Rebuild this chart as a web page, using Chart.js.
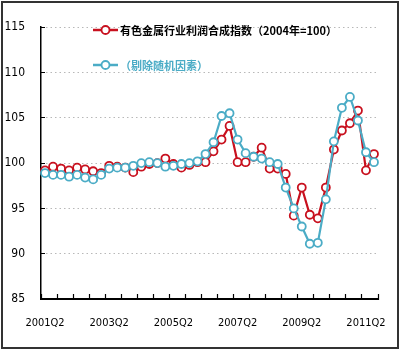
<!DOCTYPE html>
<html>
<head>
<meta charset="utf-8">
<script src="https://cdn.jsdelivr.net/npm/chart.js@4/dist/chart.umd.min.js"></script>
<style>
  html, body { margin: 0; padding: 0; background: #fff; }
  #wrap { position: relative; width: 400px; height: 351px; overflow: hidden; }
  #c { position: absolute; left: 0; top: 0; }
  #frame { position: absolute; left: 1px; top: 1px; width: 398px; height: 348px; box-sizing: border-box; border: 2px solid #333; pointer-events: none; }
  .lg { position: absolute; left: 92px; height: 16px; display: flex; align-items: center; white-space: nowrap;
        font-family: "Noto Sans CJK SC", sans-serif; font-size: 11px; font-weight: bold; }
  .lg svg { margin-right: 1px; }
</style>
</head>
<body>
<div id="wrap">
  <canvas id="c" width="400" height="351"></canvas>
  <div class="lg" id="lg1" style="top:22px;color:#000;">
    <svg width="27" height="12"><line x1="1" y1="6" x2="26" y2="6" stroke="#c8101e" stroke-width="2.5"/><circle cx="13.5" cy="6" r="4" fill="#fff" stroke="#c8101e" stroke-width="1.8"/></svg>
    <span>有色金属行业利润合成指数（2004年=100）</span>
  </div>
  <div class="lg" id="lg2" style="top:57px;color:#4bacc6;">
    <svg width="27" height="12"><line x1="1" y1="6" x2="26" y2="6" stroke="#4bacc6" stroke-width="2.5"/><circle cx="13.5" cy="6" r="4" fill="#fff" stroke="#4bacc6" stroke-width="1.8"/></svg>
    <span>（剔除随机因素）</span>
  </div>
  <div id="frame"></div>
</div>
<script>
const categories = [
  '2001Q2','2001Q3','2001Q4',
  '2002Q1','2002Q2','2002Q3','2002Q4',
  '2003Q1','2003Q2','2003Q3','2003Q4',
  '2004Q1','2004Q2','2004Q3','2004Q4',
  '2005Q1','2005Q2','2005Q3','2005Q4',
  '2006Q1','2006Q2','2006Q3','2006Q4',
  '2007Q1','2007Q2','2007Q3','2007Q4',
  '2008Q1','2008Q2','2008Q3','2008Q4',
  '2009Q1','2009Q2','2009Q3','2009Q4',
  '2010Q1','2010Q2','2010Q3','2010Q4',
  '2011Q1','2011Q2','2011Q3'
];
const shownLabels = ['2001Q2','2003Q2','2005Q2','2007Q2','2009Q2','2011Q2'];
const yTicks = [85, 90, 95, 100, 105, 110, 115];

const profitIndex = [
  99.2, 99.6, 99.4,
  99.2, 99.5, 99.3, 99.1,
  98.9, 99.7, 99.6, 99.5,
  99.0, 99.6, 99.9, 100.0,
  100.5, 99.9, 99.5, 99.8,
  100.1, 100.1, 101.3, 102.6,
  104.1, 100.1, 100.1, 100.7,
  101.7, 99.4, 99.4, 98.8,
  94.2, 97.3, 94.3, 93.9,
  97.3, 101.5, 103.6, 104.4,
  105.8, 99.2, 101.0
];
const adjustedIndex = [
  98.9, 98.7, 98.7,
  98.5, 98.7, 98.4, 98.2,
  98.7, 99.4, 99.5, 99.5,
  99.7, 100.0, 100.1, 100.0,
  99.6, 99.7, 99.9, 100.0,
  100.2, 101.0, 102.3, 105.2,
  105.5, 102.6, 101.1, 100.7,
  100.5, 100.1, 99.9, 97.3,
  95.0, 93.0, 91.1, 91.2,
  96.0, 102.4, 106.1, 107.3,
  104.7, 101.2, 100.1
];
const seriesNames = ['有色金属行业利润合成指数（2004年=100）', '（剔除随机因素）'];

const RED = '#c8101e';
const BLUE = '#4bacc6';
const axisFont = { family: "'Liberation Sans Narrow', 'DejaVu Sans Condensed', 'Liberation Serif', serif", size: 12 };

new Chart(document.getElementById('c'), {
  type: 'line',
  data: {
    labels: categories,
    datasets: [
      {
        label: seriesNames[1], data: adjustedIndex,
        borderColor: BLUE, borderWidth: 2.2, backgroundColor: '#fff',
        pointRadius: 4, pointBorderWidth: 1.8, pointBackgroundColor: '#fff', pointBorderColor: BLUE,
        tension: 0
      },
      {
        label: seriesNames[0], data: profitIndex,
        borderColor: RED, borderWidth: 2.2, backgroundColor: '#fff',
        pointRadius: 4, pointBorderWidth: 1.8, pointBackgroundColor: '#fff', pointBorderColor: RED,
        tension: 0
      }
    ]
  },
  options: {
    responsive: false,
    devicePixelRatio: 1,
    animation: false,
    events: [],
    layout: { padding: { top: 23, right: 22, left: 0, bottom: 0 } },
    plugins: { legend: { display: false }, tooltip: { enabled: false }, title: { display: false } },
    scales: {
      x: {
        type: 'category',
        offset: true,
        afterFit: s => { s.height = 52; },
        grid: {
          offset: true,
          drawOnChartArea: false,
          drawTicks: true,
          tickLength: -5,
          tickWidth: 1.2,
          tickBorderDash: [],
          tickColor: c => (c.index === undefined || c.index % 2 === 0) ? '#000' : 'rgba(0,0,0,0)'
        },
        border: { display: true, color: '#000', width: 2 },
        ticks: {
          autoSkip: false, maxRotation: 0, minRotation: 0, padding: 23,
          color: '#000', font: { ...axisFont, size: 11 },
          callback: function (v, i) { const l = categories[i]; return shownLabels.includes(l) ? l : ''; }
        }
      },
      y: {
        min: yTicks[0], max: yTicks[yTicks.length - 1],
        afterFit: s => { s.width = 41; },
        afterBuildTicks: s => { s.ticks = yTicks.map(v => ({ value: v })); },
        grid: {
          drawOnChartArea: true,
          drawTicks: true,
          tickLength: -4,
          tickBorderDash: [],
          tickColor: '#000',
          tickWidth: 1,
          color: c => c.tick && c.tick.value === yTicks[0] ? 'rgba(0,0,0,0)' : '#b8b8b8',
          lineWidth: 1
        },
        border: { display: true, color: '#000', width: 1.5, dash: [1.5, 3] },
        ticks: { padding: 20, color: '#000', font: axisFont }
      }
    }
  }
});
</script>
</body>
</html>
